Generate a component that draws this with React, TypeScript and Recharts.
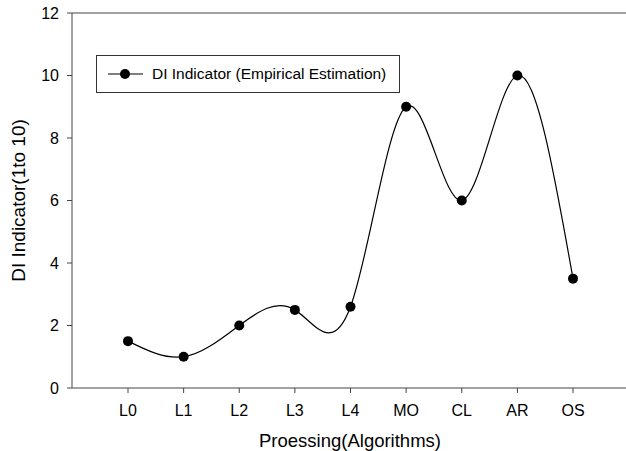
import { LineChart, Line, XAxis, YAxis, ReferenceLine, Legend } from 'recharts';

const categories = ['L0', 'L1', 'L2', 'L3', 'L4', 'MO', 'CL', 'AR', 'OS'];
const diValues = [1.5, 1.0, 2.0, 2.5, 2.6, 9.0, 6.0, 10.0, 3.5];
const yTicks = [0, 2, 4, 6, 8, 10, 12];

const data = categories.map((name, i) => ({ name, di: diValues[i] }));

const font = '"Liberation Sans", Arial, sans-serif';
const axisColor = '#444';

function LegendBox() {
  return (
    <div
      style={{
        border: '1px solid #333',
        width: 302,
        height: 36,
        display: 'flex',
        alignItems: 'center',
        fontFamily: font,
        fontSize: 15.5,
        color: '#000',
        background: '#fff',
        boxSizing: 'content-box',
      }}
    >
      <svg width={55} height={36} style={{ flex: 'none' }}>
        <line x1={11} x2={46} y1={18} y2={18} stroke="#000" strokeWidth={1.2} />
        <circle cx={28} cy={18} r={5} fill="#000" />
      </svg>
      <span style={{ whiteSpace: 'nowrap' }}>DI Indicator (Empirical Estimation)</span>
    </div>
  );
}

export default function App() {
  return (
    <div style={{ position: 'absolute', left: 0, top: 0, width: 626, height: 451, overflow: 'hidden', background: '#fff' }}>
      <LineChart width={640} height={451} data={data} margin={{ top: 13, right: 12, bottom: 0, left: 0 }}>
        <ReferenceLine y={12} stroke={axisColor} strokeWidth={1.2} />
        <XAxis
          dataKey="name"
          type="category"
          padding={{ left: 56, right: 55 }}
          height={63}
          tickSize={5}
          tickMargin={12}
          stroke={axisColor}
          tick={{ fill: '#000', fontSize: 16, fontFamily: font }}
          label={{
            value: 'Proessing(Algorithms)',
            position: 'insideBottom',
            offset: 4,
            style: { fill: '#000', fontSize: 18.5, fontFamily: font },
          }}
        />
        <YAxis
          domain={[0, 12]}
          ticks={yTicks}
          width={72}
          tickSize={5}
          tickMargin={8}
          stroke={axisColor}
          interval={0}
          tick={{ fill: '#000', fontSize: 16, fontFamily: font }}
          label={{
            value: 'DI Indicator(1to 10)',
            angle: -90,
            position: 'insideLeft',
            offset: 18,
            style: { fill: '#000', fontSize: 19, fontFamily: font, textAnchor: 'middle' },
          }}
        />
        <Legend
          layout="horizontal"
          verticalAlign="middle"
          align="center"
          wrapperStyle={{ left: 96, top: 55, width: 'auto' }}
          content={() => <LegendBox />}
        />
        <Line
          type="natural"
          dataKey="di"
          stroke="#000"
          strokeWidth={1.2}
          dot={{ r: 5, fill: '#000', stroke: '#000', strokeWidth: 0 }}
          activeDot={false}
          isAnimationActive={false}
        />
      </LineChart>
    </div>
  );
}
